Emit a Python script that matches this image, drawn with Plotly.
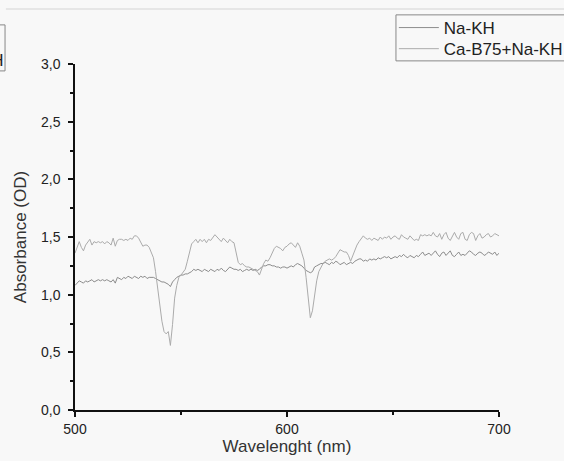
"""
Absorbance spectra: Na-KH vs Ca-B75+Na-KH
"""
import plotly.graph_objects as go

# wavelength grid, 1 nm steps
wavelength = list(range(500, 701))

# Na-KH (darker, flatter trace)
na_kh = [
    1.08, 1.10, 1.12, 1.11, 1.10, 1.12, 1.11, 1.12, 1.13, 1.11,
    1.12, 1.13, 1.12, 1.13, 1.12, 1.13, 1.12, 1.11, 1.13, 1.10,
    1.15, 1.14, 1.13, 1.15, 1.14, 1.16, 1.15, 1.14, 1.16, 1.15,
    1.14, 1.16, 1.15, 1.16, 1.14, 1.15, 1.15, 1.15, 1.14, 1.13,
    1.12, 1.11, 1.11, 1.10, 1.09, 1.07, 1.11, 1.13, 1.15, 1.16,
    1.17, 1.17, 1.18, 1.18, 1.19, 1.20, 1.22, 1.21, 1.22, 1.21,
    1.20, 1.22, 1.21, 1.20, 1.22, 1.21, 1.20, 1.22, 1.21, 1.23,
    1.21, 1.20, 1.22, 1.24, 1.23, 1.22, 1.22, 1.21, 1.22, 1.20,
    1.21, 1.22, 1.21, 1.22, 1.21, 1.22, 1.21, 1.22, 1.24, 1.25,
    1.25, 1.26, 1.26, 1.25, 1.25, 1.24, 1.24, 1.23, 1.24, 1.24,
    1.23, 1.24, 1.25, 1.24, 1.26, 1.27, 1.26, 1.25, 1.23, 1.21,
    1.20, 1.19, 1.20, 1.24, 1.25, 1.26, 1.27, 1.27, 1.28, 1.27,
    1.26, 1.28, 1.27, 1.29, 1.28, 1.26, 1.27, 1.28, 1.26, 1.27,
    1.28, 1.27, 1.29, 1.30, 1.31, 1.31, 1.29, 1.30, 1.29, 1.31,
    1.30, 1.31, 1.30, 1.32, 1.31, 1.32, 1.33, 1.32, 1.33, 1.31,
    1.32, 1.33, 1.32, 1.34, 1.33, 1.35, 1.33, 1.32, 1.34, 1.33,
    1.32, 1.34, 1.33, 1.35, 1.37, 1.34, 1.35, 1.36, 1.34, 1.36,
    1.38, 1.35, 1.33, 1.36, 1.37, 1.34, 1.36, 1.38, 1.34, 1.33,
    1.35, 1.37, 1.34, 1.35, 1.34, 1.36, 1.38, 1.37, 1.35, 1.34,
    1.36, 1.37, 1.36, 1.34, 1.35, 1.37, 1.36, 1.35, 1.37, 1.34,
    1.36,
]

# Ca-B75+Na-KH (lighter trace with the two dips)
ca_b75_na_kh = [
    1.36, 1.42, 1.46, 1.41, 1.38, 1.43, 1.46, 1.48, 1.43, 1.46,
    1.45, 1.46, 1.45, 1.46, 1.44, 1.46, 1.45, 1.43, 1.49, 1.42,
    1.47, 1.48, 1.48, 1.47, 1.48, 1.47, 1.49, 1.48, 1.51, 1.51,
    1.49, 1.46, 1.42, 1.43, 1.43, 1.41, 1.36, 1.32, 1.20, 1.05,
    0.92, 0.77, 0.68, 0.66, 0.68, 0.56, 0.74, 0.97, 1.08, 1.15,
    1.17, 1.20, 1.22, 1.29, 1.36, 1.44, 1.46, 1.48, 1.45, 1.48,
    1.46, 1.48, 1.45, 1.48, 1.47, 1.50, 1.52, 1.50, 1.48, 1.46,
    1.49, 1.47, 1.45, 1.48, 1.46, 1.45, 1.36, 1.28, 1.26, 1.27,
    1.25, 1.24, 1.24, 1.23, 1.22, 1.21, 1.20, 1.17, 1.22, 1.27,
    1.30, 1.29, 1.32, 1.36, 1.40, 1.42, 1.41, 1.40, 1.38, 1.41,
    1.42, 1.44, 1.45, 1.43, 1.41, 1.45, 1.42, 1.36, 1.30, 1.15,
    0.95, 0.80, 0.86, 1.00, 1.12, 1.20, 1.24, 1.27, 1.29, 1.30,
    1.31, 1.30, 1.31, 1.33, 1.36, 1.39, 1.38, 1.37, 1.37, 1.34,
    1.29, 1.34, 1.39, 1.43, 1.46, 1.49, 1.51, 1.49, 1.48, 1.49,
    1.47, 1.49, 1.48, 1.47, 1.50, 1.48, 1.50, 1.49, 1.51, 1.48,
    1.50, 1.51, 1.49, 1.48, 1.52, 1.50, 1.49, 1.48, 1.51, 1.49,
    1.47, 1.48, 1.47, 1.52, 1.51, 1.52, 1.51, 1.52, 1.51, 1.54,
    1.51, 1.50, 1.53, 1.48, 1.52, 1.54, 1.49, 1.47, 1.51, 1.54,
    1.50, 1.48, 1.53, 1.54, 1.48, 1.47, 1.52, 1.54, 1.53, 1.47,
    1.51, 1.53, 1.49, 1.50, 1.52, 1.53, 1.50, 1.51, 1.53, 1.52,
    1.51,
]

BG = "#f8f8f8"
FONT = "Liberation Sans, Arial, sans-serif"

fig = go.Figure()
fig.add_trace(go.Scatter(
    x=wavelength, y=na_kh, mode="lines", name="Na-KH",
    line=dict(color="#8c8c8c", width=1), legend="legend",
))
fig.add_trace(go.Scatter(
    x=wavelength, y=ca_b75_na_kh, mode="lines", name="Ca-B75+Na-KH",
    line=dict(color="#ababab", width=1), legend="legend2",
))

axis_common = dict(
    showline=True, linecolor="#111", linewidth=1.5,
    ticks="outside", ticklen=5, tickwidth=1.5, tickcolor="#111",
    showgrid=False, zeroline=False, mirror=False,
    tickfont=dict(size=14, color="#222", family=FONT),
)

fig.update_xaxes(
    range=[500, 700], dtick=100, tick0=500,
    title=dict(text="Wavelenght (nm)", font=dict(size=17, color="#333", family=FONT), standoff=0),
    minor=dict(dtick=50, ticks="outside", ticklen=3, tickwidth=1.5, tickcolor="#111"),
    **axis_common,
)
fig.update_yaxes(
    range=[0, 3], dtick=0.5, tick0=0, tickformat=".1f",
    ticklabelstandoff=5,
    title=dict(text="Absorbance (OD)", font=dict(size=17, color="#333", family=FONT), standoff=10),
    minor=dict(dtick=0.25, ticks="outside", ticklen=3, tickwidth=1.5, tickcolor="#111"),
    **axis_common,
)

# two single-entry legends so the rows sit as tight as in the original
leg_common = dict(
    xanchor="left", yanchor="top", bgcolor="rgba(0,0,0,0)", borderwidth=0,
    font=dict(size=17, color="#222", family=FONT), itemwidth=40,
)

fig.update_layout(
    width=564, height=461,
    separators=",.",
    paper_bgcolor=BG, plot_bgcolor=BG,
    font=dict(family=FONT, color="#222"),
    margin=dict(l=75, r=65, t=64, b=51, autoexpand=False),
    showlegend=True,
    legend=dict(x=0.752, y=1.156, **leg_common),
    legend2=dict(x=0.752, y=1.095, **leg_common),
    shapes=[
        # faint line across the top of the page
        dict(type="line", xref="paper", yref="paper",
             x0=-0.163, x1=1.2, y0=1.159, y1=1.159,
             line=dict(color="#d4d4d4", width=1)),
        # legend frame (runs past the right edge)
        dict(type="rect", xref="paper", yref="paper",
             x0=0.757, x1=1.25, y0=1.009, y1=1.142,
             line=dict(color="#888", width=1), layer="below"),
        # cut-off box at the left edge
        dict(type="rect", xref="paper", yref="paper",
             x0=-0.25, x1=-0.165, y0=0.98, y1=1.113,
             line=dict(color="#888", width=1), fillcolor=BG, layer="above"),
    ],
    annotations=[
        dict(text="Ca-B75+Na-KH", xref="paper", yref="paper",
             x=-0.1627, y=1.01, xanchor="right", yanchor="middle",
             showarrow=False, font=dict(size=17, color="#222", family=FONT)),
    ],
)

fig.write_html("out.html", config={"displayModeBar": False},
               post_script="document.body.style.margin='0';")
